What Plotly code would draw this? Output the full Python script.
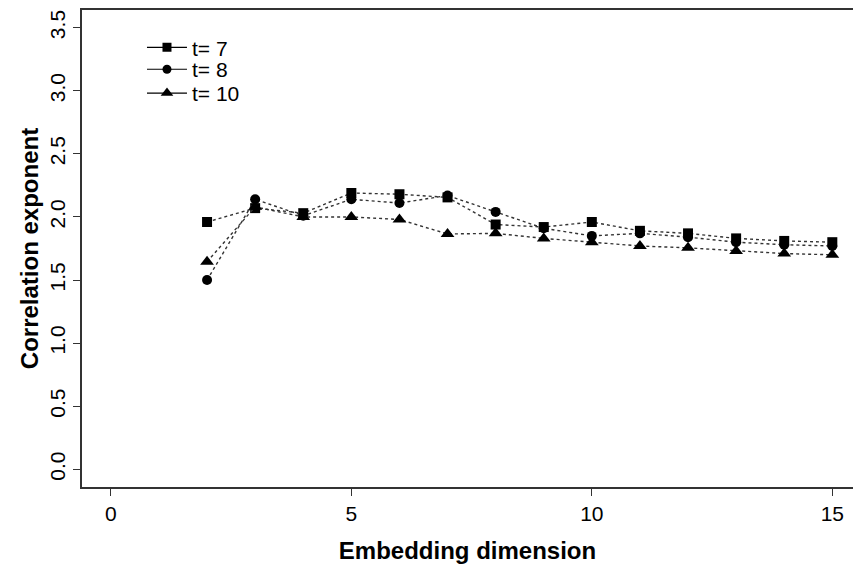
import plotly.graph_objects as go

dims = list(range(2, 16))
t7 = [1.96, 2.07, 2.03, 2.19, 2.18, 2.155, 1.94, 1.92, 1.96, 1.89, 1.87, 1.83, 1.81, 1.80]
t8 = [1.50, 2.14, 2.01, 2.14, 2.11, 2.17, 2.04, 1.91, 1.85, 1.87, 1.84, 1.80, 1.78, 1.77]
t10 = [1.645, 2.08, 2.00, 2.00, 1.98, 1.865, 1.87, 1.83, 1.80, 1.77, 1.755, 1.73, 1.71, 1.70]
labels = ["t= 7", "t= 8", "t= 10"]
symbols = ["square", "circle", "triangle-up"]
sizes = [10, 10, 12]
series = [t7, t8, t10]
legend_ids = ["legend", "legend2", "legend3"]
legend_y = [0.964, 0.918, 0.868]

fig = go.Figure()
for ys, sym, sz in zip(series, symbols, sizes):
    fig.add_trace(go.Scatter(
        x=dims, y=ys, mode="lines+markers", showlegend=False,
        line=dict(color="#333333", width=1.4, dash="dot"),
        marker=dict(symbol=sym, size=sz, color="black"),
    ))
for lab, sym, sz, lid in zip(labels, symbols, sizes, legend_ids):
    fig.add_trace(go.Scatter(
        x=[None], y=[None], mode="lines+markers", name=lab, legend=lid,
        line=dict(color="black", width=1.2),
        marker=dict(symbol=sym, size=sz - 1, color="black"),
    ))

font = "Liberation Sans, Arial, sans-serif"
leg_common = dict(x=0.0778, xanchor="left", yanchor="top", itemwidth=40,
                  bgcolor="rgba(0,0,0,0)", font=dict(size=21))
fig.update_layout(
    width=853, height=570,
    margin=dict(l=82, r=0, t=10, b=83),
    plot_bgcolor="white", paper_bgcolor="white",
    font=dict(family=font, size=21, color="black"),
    showlegend=True,
    legend=dict(y=legend_y[0], **leg_common),
    legend2=dict(y=legend_y[1], **leg_common),
    legend3=dict(y=legend_y[2], **leg_common),
    xaxis=dict(range=[-0.6, 15.43], tickvals=[0, 5, 10, 15],
               tickfont=dict(size=21),
               showline=True, linecolor="#333333", linewidth=1.5, mirror=True,
               ticks="outside", ticklen=7, tickcolor="#333333",
               showgrid=False, zeroline=False,
               title=dict(text="<b>Embedding dimension</b>", standoff=18,
                          font=dict(size=24))),
    yaxis=dict(range=[-0.14, 3.64], tickvals=[0, 0.5, 1, 1.5, 2, 2.5, 3, 3.5],
               tickformat=".1f", tickangle=-90, tickfont=dict(size=21),
               showline=True, linecolor="#333333", linewidth=1.5,
               ticks="outside", ticklen=7, tickcolor="#333333",
               showgrid=False, zeroline=False,
               title=dict(text="<b>Correlation exponent</b>", standoff=0,
                          font=dict(size=24))),
)
fig.write_html("out.html")
